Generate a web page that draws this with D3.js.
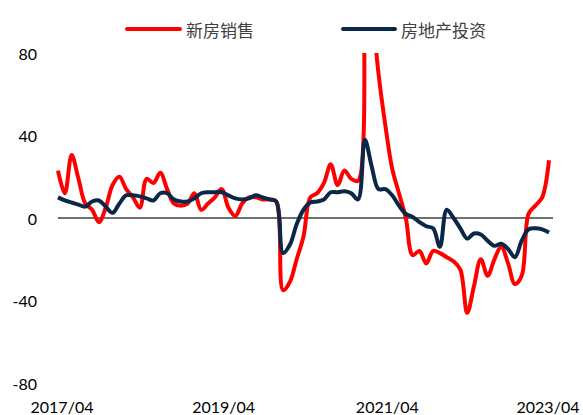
<!DOCTYPE html>
<html><head><meta charset="utf-8">
<script src="https://cdn.jsdelivr.net/npm/d3@7"></script>
<style>body{margin:0;background:#fff}svg{display:block}</style>
</head><body>
<div id="chart"></div>
<script>
// Monthly, 2017/04 .. 2023/04
const startYear = 2017, startMonth = 4;
const sales = [23,12,30.5,19,7,4,-2,5,16,20,14,10,5,19,17,22,14,7,6,7,12,4,7,10,14,5,1,7,10,10,9,9,8,-35,-31,-20,-9,10,12,17,26,16,23,19,18,133,104,70,45,24,12,0,-18,-16,-22,-16,-17,-19,-21,-25,-46,-33,-20,-28,-20,-14,-22,-32,-28,2,6,10,28];
const invest = [10,8.5,7.5,6.5,5.5,8,8.5,5.5,2.5,7,11,11,10.5,9.5,8.5,12,12,9,8,8,9.5,12,12.5,12.5,12.5,11,9.5,9,9.5,11,10,9,8,-17,-13,-3,4,7.5,8,9,12.5,12.5,13,12,9,38,25,14,14,11,6,2,0.5,-2,-4,-5,-14,4,0,-5,-10,-7.5,-8,-11,-13.5,-12.5,-15,-19,-11,-5.5,-5,-5.5,-7];
const seriesNames = ["新房销售","房地产投资"];
const yTicks = [80,40,0,-40,-80];
const xTickLabels = ["2017/04","2019/04","2021/04","2023/04"];
const xTickIdx = [0,24,48,72];

const W=583,H=415;
const svg=d3.select("#chart").append("svg").attr("width",W).attr("height",H);
const x=d3.scaleLinear().domain([0,72]).range([58,549]);
const y=d3.scaleLinear().domain([-80,80]).range([383,53]);

// y labels
svg.append("g").selectAll("text").data(yTicks).join("text")
  .attr("x",37).attr("y",d=>y(d)).attr("text-anchor","end").attr("dominant-baseline","central")
  .attr("font-family","Lato, 'Liberation Sans', sans-serif").attr("font-size",16).attr("fill","#000")
  .text(d=>d);
// x labels
svg.append("g").selectAll("text").data(xTickIdx).join("text")
  .attr("x",(d,i)=>x(d)+ (i===0?4:(i===3?-1:2))).attr("y",406).attr("text-anchor","middle").attr("dominant-baseline","central")
  .attr("font-family","Lato, 'Liberation Sans', sans-serif").attr("font-size",16).attr("fill","#000")
  .text((d,i)=>xTickLabels[i]);
// zero line
svg.append("line").attr("x1",58).attr("x2",553).attr("y1",y(0)).attr("y2",y(0))
  .attr("stroke","#404040").attr("stroke-width",1.5);

svg.append("clipPath").attr("id","clip").append("rect").attr("x",0).attr("y",y(80)).attr("width",W).attr("height",y(-80)-y(80));
const line=d3.line().x((d,i)=>x(i)).y(d=>y(d)).curve(d3.curveCatmullRom.alpha(0.5));
const g=svg.append("g").attr("clip-path","url(#clip)");
g.append("path").attr("d",line(sales)).attr("fill","none").attr("stroke","#FF0000").attr("stroke-width",4).attr("stroke-linejoin","round");
g.append("path").attr("d",line(invest)).attr("fill","none").attr("stroke","#0A2748").attr("stroke-width",4).attr("stroke-linejoin","round");

// legend
const leg=[{x1:127,x2:180,tx:186,c:"#FF0000",t:seriesNames[0]},{x1:343,x2:395,tx:401,c:"#0A2748",t:seriesNames[1]}];
leg.forEach(l=>{
  svg.append("line").attr("x1",l.x1).attr("x2",l.x2).attr("y1",29).attr("y2",29).attr("stroke",l.c).attr("stroke-width",4).attr("stroke-linecap","round");
  svg.append("text").attr("x",l.tx).attr("y",29).attr("dominant-baseline","central")
    .attr("font-family","'Noto Sans CJK SC', sans-serif").attr("font-size",17).attr("fill","#404040").text(l.t);
});
</script>
</body></html>
